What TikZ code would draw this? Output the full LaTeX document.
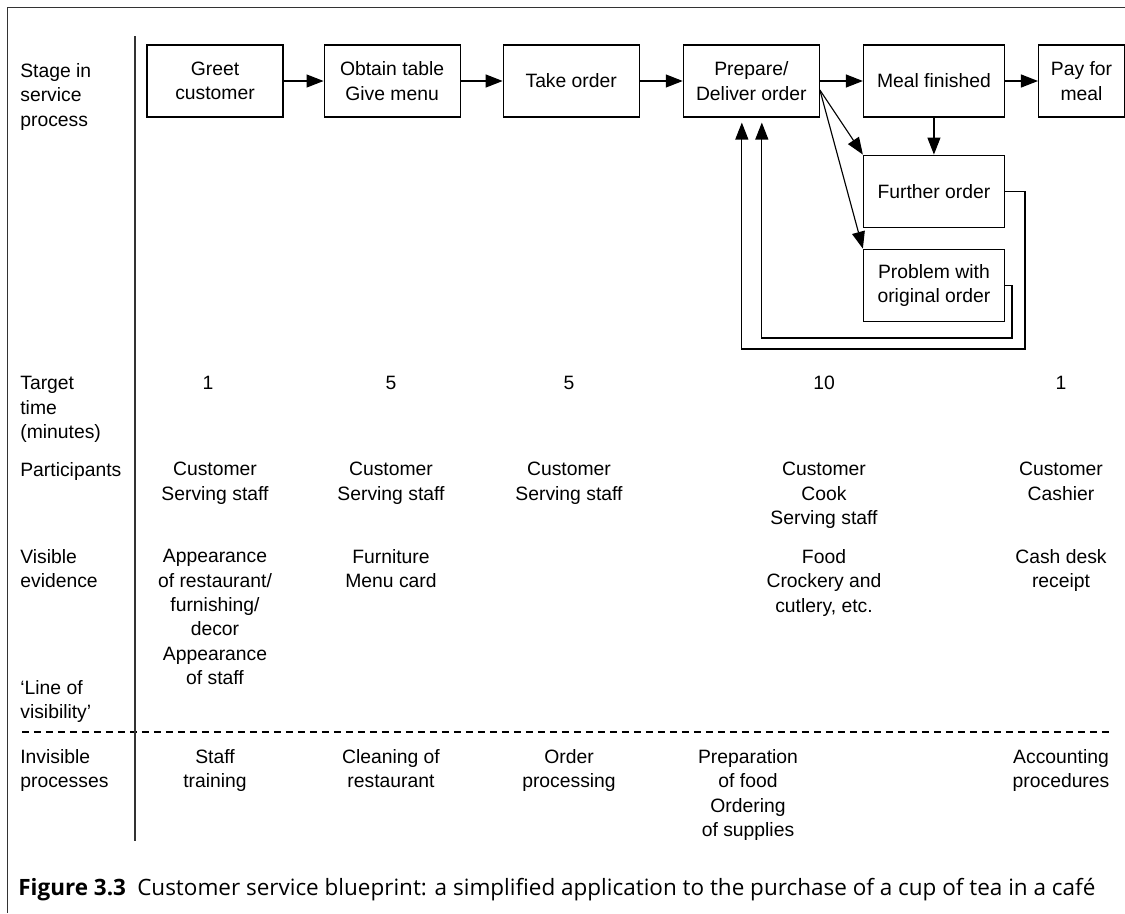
\documentclass[tikz,border=0pt]{standalone}
\usepackage{fontspec}
\setmainfont{Liberation Sans}
\newfontfamily\capfont{Open Sans}
\usetikzlibrary{positioning,arrows.meta}

\tikzset{
  stagebox/.style={draw, line width=0.65pt, minimum width=2.72cm, minimum height=1.44cm, align=center, inner sep=0pt},
  flow/.style={-{Triangle[length=0.34cm,width=0.26cm]}, line width=0.65pt},
  rowlabel/.style={anchor=north west, align=left, inner sep=0pt},
  cell/.style={anchor=north, align=center, inner sep=0pt},
  rule/.style={line width=0.9pt, black!80}
}

\begin{document}
\begin{tikzpicture}[x=0.02cm, y=-0.02cm, font=\fontsize{11}{13.9}\selectfont]
  \useasboundingbox (0,0) rectangle (1125,913);
  % frame, divider and line of visibility
  \draw[rule] (1125,7.5) -- (7.5,7.5) -- (7.5,913);
  \draw[line width=0.6pt, dash pattern=on 0.14cm off 0.1cm] (22,732) -- (1112,732);
  \draw[rule] (135,36) -- (135,841);

  % stages
  \node [stagebox] (greet) at (215,81) {Greet\\customer};
  \node [stagebox, right = 0.8cm of greet] (obtain) {Obtain table\\Give menu};
  \node [stagebox, right = 0.84cm of obtain] (take) {Take order};
  \node [stagebox, right = 0.86cm of take] (prepare) {Prepare/\\Deliver order};
  \node [stagebox, minimum width=2.82cm, right = 0.86cm of prepare] (meal) {Meal finished};
  \node [stagebox, minimum width=1.72cm, right = 0.66cm of meal] (pay) {Pay for\\meal};
  \node [stagebox, minimum width=2.82cm, below = 0.74cm of meal] (further) {Further order};
  \node [stagebox, minimum width=2.82cm, below = 0.42cm of further] (problem) {Problem with\\original order};
  \coordinate (fturn) at (1025,349);
  \coordinate (pturn) at (1012,338);

  \draw[flow] (greet) -- (obtain);
  \draw[flow] (obtain) -- (take);
  \draw[flow] (take) -- (prepare);
  \draw[flow] (prepare) -- (meal);
  \draw[flow] (meal) -- (pay);
  \draw[flow] (meal) -- (further);
  \draw[flow] ([yshift=-0.18cm]prepare.east) -- (further.north west);
  \draw[flow] ([yshift=-0.18cm]prepare.east) -- (problem.north west);
  \draw[flow] (further.east) -| (fturn) -| ([xshift=-0.19cm,yshift=-0.1cm]prepare.south);
  \draw[flow] (problem.east) -| (pturn) -| ([xshift=0.21cm,yshift=-0.1cm]prepare.south);

  % row labels
  \node [rowlabel] (lstage) at (20,63) {Stage in\\service\\process};
  \node [rowlabel] (ltime) at (20,376) {Target\\time\\(minutes)};
  \node [rowlabel] (lpart) at (20,462) {Participants};
  \node [rowlabel] (lvis) at (20,549) {Visible\\evidence};
  \node [rowlabel] (lline) at (20,680) {‘Line of\\visibility’};
  \node [rowlabel] (linv) at (20,749) {Invisible\\processes};

  % target times
  \node [cell] (time1) at (208,376) {1};
  \node [cell] (time2) at (391,376) {5};
  \node [cell] (time3) at (569,376) {5};
  \node [cell] (time4) at (824,376) {10};
  \node [cell] (time5) at (1061,376) {1};

  % participants
  \node [cell] (part1) at (215,462) {Customer\\Serving staff};
  \node [cell] (part2) at (391,462) {Customer\\Serving staff};
  \node [cell] (part3) at (569,462) {Customer\\Serving staff};
  \node [cell] (part4) at (824,462) {Customer\\Cook\\Serving staff};
  \node [cell] (part5) at (1061,462) {Customer\\Cashier};

  % visible evidence
  \node [cell] (vis1) at (215,549) {Appearance\\of restaurant/\\furnishing/\\decor\\Appearance\\of staff};
  \node [cell] (vis2) at (391,549) {Furniture\\Menu card};
  \node [cell] (vis4) at (824,549) {Food\\Crockery and\\cutlery, etc.};
  \node [cell] (vis5) at (1061,549) {Cash desk\\receipt};

  % invisible processes
  \node [cell] (inv1) at (215,749) {Staff\\training};
  \node [cell] (inv2) at (391,749) {Cleaning of\\restaurant};
  \node [cell] (inv3) at (569,749) {Order\\processing};
  \node [cell] (inv4) at (748,749) {Preparation\\of food\\Ordering\\of supplies};
  \node [cell] (inv5) at (1061,749) {Accounting\\procedures};

  \node [anchor=west, inner sep=0pt] (caption) at (18,890)
    {\capfont\fontsize{12.8}{15}\selectfont\textbf{Figure 3.3}\hspace{0.5em}Customer service blueprint: a simplified application to the purchase of a cup of tea in a café};
\end{tikzpicture}
\end{document}
